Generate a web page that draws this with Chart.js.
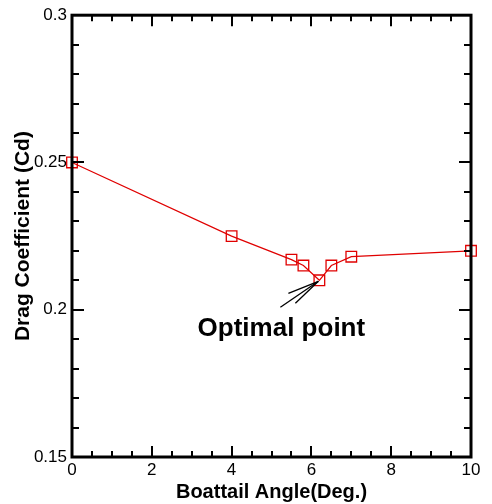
<!DOCTYPE html>
<html><head><meta charset="utf-8">
<script src="https://cdn.jsdelivr.net/npm/chart.js@4/dist/chart.umd.min.js"></script>
<style>html,body{margin:0;padding:0;background:#fff}#wrap{width:492px;height:504px}</style>
</head><body><div id="wrap"><canvas id="c" width="492" height="504"></canvas></div>
<script>
const angles = [0, 4, 5.5, 5.8, 6.2, 6.5, 7, 10];
const dragCoeff = [0.25, 0.225, 0.217, 0.215, 0.21, 0.215, 0.218, 0.22];
const xTicks = [0, 2, 4, 6, 8, 10];
const yTicks = [0.15, 0.2, 0.25, 0.3];
const xMinorStep = 0.5;
const yMinorStep = 0.01;
const annotationText = 'Optimal point';
const annotationTip = {x: 6.2, y: 0.21};

const FONT = '"Liberation Sans", Arial, Helvetica, sans-serif';

const framePlugin = {
  id: 'frame',
  afterDraw(chart) {
    const ctx = chart.ctx, a = chart.chartArea;
    const xs = chart.scales.x, ys = chart.scales.y;
    ctx.save();
    ctx.strokeStyle = '#000';
    ctx.lineWidth = 2;
    const vline = (x, y0, y1) => {ctx.beginPath(); ctx.moveTo(x, y0); ctx.lineTo(x, y1); ctx.stroke();};
    const hline = (y, x0, x1) => {ctx.beginPath(); ctx.moveTo(x0, y); ctx.lineTo(x1, y); ctx.stroke();};
    for (let v = xs.min; v <= xs.max + 1e-9; v += xMinorStep) {
      const px = Math.round(xs.getPixelForValue(v));
      const major = xTicks.some(t => Math.abs(t - v) < 1e-9);
      const len = major ? 11 : 6;
      vline(px, a.bottom, a.bottom - len);
      vline(px, a.top, a.top + len);
    }
    for (let v = ys.min; v <= ys.max + 1e-9; v += yMinorStep) {
      const py = Math.round(ys.getPixelForValue(v));
      const major = yTicks.some(t => Math.abs(t - v) < 1e-9);
      const len = major ? 12 : 7;
      hline(py, a.left, a.left + len);
      hline(py, a.right, a.right - len);
    }
    ctx.lineWidth = 3;
    ctx.strokeRect(a.left, a.top, a.right - a.left, a.bottom - a.top);
    // annotation arrow
    const tx = xs.getPixelForValue(annotationTip.x), ty = ys.getPixelForValue(annotationTip.y);
    ctx.lineWidth = 1.3;
    const tail = [[-38, 26], [-30, 12], [-23, 22]];
    tail.forEach(([dx, dy]) => {ctx.beginPath(); ctx.moveTo(tx - 1, ty + 1); ctx.lineTo(tx - 1 + dx, ty + 1 + dy); ctx.stroke();});
    ctx.fillStyle = '#000';
    ctx.font = 'bold 26px ' + FONT;
    ctx.textAlign = 'center';
    ctx.textBaseline = 'middle';
    ctx.fillText(annotationText, tx - 38, ty + 49);
    ctx.restore();
  }
};

new Chart(document.getElementById('c'), {
  type: 'line',
  data: {
    datasets: [{
      data: angles.map((x, i) => ({x, y: dragCoeff[i]})),
      borderColor: '#e00000',
      borderWidth: 1.2,
      pointStyle: 'rect',
      pointRadius: 7.5,
      pointBorderWidth: 1.3,
      pointBorderColor: '#e00000',
      pointBackgroundColor: 'rgba(0,0,0,0)',
      tension: 0,
      clip: false
    }]
  },
  options: {
    responsive: false,
    animation: false,
    devicePixelRatio: 1,
    layout: {padding: {top: 15, right: 21, left: 0, bottom: 0}},
    plugins: {legend: {display: false}, tooltip: {enabled: false}},
    scales: {
      x: {
        type: 'linear', min: 0, max: 10,
        afterBuildTicks: s => { s.ticks = xTicks.map(v => ({value: v})); },
        afterFit: s => { s.height = 47; },
        grid: {display: false, drawTicks: false},
        border: {display: false},
        ticks: {color: '#000', padding: 3, font: {family: FONT, size: 17}, maxRotation: 0,
                callback: v => String(+Number(v).toFixed(2))},
        title: {display: true, text: 'Boattail Angle(Deg.)', color: '#000', padding: {top: 4, bottom: 0}, font: {family: FONT, size: 20, weight: 'bold'}}
      },
      y: {
        type: 'linear', min: 0.15, max: 0.3,
        afterBuildTicks: s => { s.ticks = yTicks.map(v => ({value: v})); },
        afterFit: s => { s.width = 72; },
        grid: {display: false, drawTicks: false},
        border: {display: false},
        ticks: {color: '#000', padding: 5, font: {family: FONT, size: 17},
                callback: v => String(+Number(v).toFixed(2))},
        title: {display: true, text: 'Drag Coefficient (Cd)', color: '#000', padding: {top: 11, bottom: 0}, font: {family: FONT, size: 21, weight: 'bold'}}
      }
    }
  },
  plugins: [framePlugin]
});
</script></body></html>
